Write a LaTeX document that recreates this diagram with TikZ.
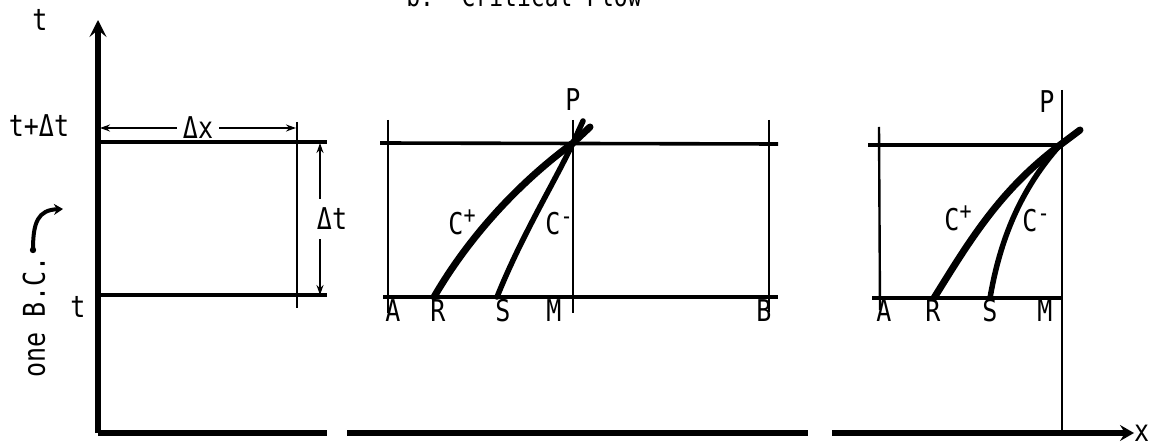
\documentclass[tikz,border=0pt]{standalone}
\usepackage{fontspec}
\setmainfont{DejaVu Sans Mono}
\usetikzlibrary{arrows.meta}
\newcommand{\tx}[1]{\scalebox{1}[1.2]{#1}}
\newcommand{\supx}[1]{\raisebox{9pt}{\fontsize{20}{20}\selectfont #1}}
\begin{document}
\begin{tikzpicture}[x=1pt,y=-1pt,
  lbl/.style={font=\fontsize{25}{25}\selectfont, inner sep=0pt},
  axis/.style={line width=6pt},
  grid/.style={line width=3.6pt},
  thin/.style={line width=2.4pt},
  charc/.style={line width=7pt, line cap=round},
  dim/.style={line width=1.8pt, {Stealth[length=10pt,width=7pt]}-{Stealth[length=10pt,width=7pt]}}]
\useasboundingbox (0,0) rectangle (1150,443);
% title (clipped at top, as in the reference)
\node[lbl, font=\fontsize{23}{23}\selectfont, anchor=base] (title) at (524,7) {\tx{b.\ \ Critical Flow}};
% axes
\coordinate (O) at (98,433);
\coordinate (T) at (98,20);
\draw[axis, -{Stealth[length=17pt,width=17pt,inset=7pt]}] (O) -- (T);
\draw[axis] (O) -- (327,433);
\draw[axis] (347,433) -- (808,433);
\draw[axis, -{Stealth[length=14pt,width=16pt,inset=5pt]}] (832,433) -- (1134,433);
\node[lbl, anchor=west] (xlab) at (1134,433) {\tx{x}};
\node[lbl] (tlab) at (40,20) {\tx{t}};
\node[lbl] (ttop) at (39,126) {\tx{t+Δt}};
\node[lbl] (tbot) at (78,307) {\tx{t}};
\node[lbl, rotate=90] (bc) at (34,317) {\tx{one B.C.}};
\fill (33,250) circle (3.2pt);
\draw[line width=4pt, -{Stealth[length=9pt,width=11pt]}] (33,250) .. controls (33,222) and (38,210) .. (63,209);
% left panel
\draw[grid] (98,142) -- (327,142);
\draw[grid] (98,295) -- (327,295);
\draw[thin] (297,122) -- (297,308);
\coordinate (dxl) at (100,128);
\coordinate (dxr) at (296,128);
\draw[dim] (dxl) -- node[lbl, fill=white, inner xsep=6pt] (dx) {\tx{Δx}} (dxr);
\coordinate (dtt) at (320,143);
\coordinate (dtb) at (320,295);
\draw[dim] (dtt) -- node[lbl, fill=white, inner ysep=9pt, xshift=12pt] (dt) {\tx{Δt}} (dtb);
% middle panel
\draw[grid] (380,143) -- (778,144);
\draw[grid] (383,297) -- (778,297);
\draw[thin] (388,120) -- (388,313);
\draw[thin] (573,120) -- (573,313);
\draw[thin] (769,120) -- (769,312);
\coordinate (P1) at (573,143);
\coordinate (R1) at (434,297);
\coordinate (S1) at (497,297);
\coordinate (E1) at (590,127);
\draw[charc] (R1) .. controls (470,235) and (520,182) .. (P1) -- (E1);
\draw[charc, line width=5.5pt] (S1) .. controls (522,235) and (553,185) .. (P1) -- (583,121);
\node[lbl] (p1) at (573,100) {\tx{P}};
\node[lbl] (cp1) at (462,222) {\tx{C\supx{+}}};
\node[lbl] (cm1) at (559,224) {\tx{C\supx{-}}};
\node[lbl] (a1) at (393,311) {\tx{A}};
\node[lbl] (r1) at (438,311) {\tx{R}};
\node[lbl] (s1) at (503,311) {\tx{S}};
\node[lbl] (m1) at (554,311) {\tx{M}};
\node[lbl] (b1) at (764,311) {\tx{B}};
% right panel
\draw[grid] (868,145) -- (1060,145);
\draw[grid] (872,298) -- (1062,298);
\draw[thin] (879,127) -- (880,310);
\draw[thin] (1062,90) -- (1062,433);
\coordinate (P2) at (1060,145);
\coordinate (R2) at (934,298);
\coordinate (S2) at (990,298);
\coordinate (E2) at (1080,130);
\draw[charc] (R2) .. controls (970,240) and (1000,190) .. (P2) -- (E2);
\draw[charc, line width=5.5pt] (S2) .. controls (1000,240) and (1020,190) .. (P2);
\node[lbl] (p2) at (1047,102) {\tx{P}};
\node[lbl] (cp2) at (958,218) {\tx{C\supx{+}}};
\node[lbl] (cm2) at (1036,221) {\tx{C\supx{-}}};
\node[lbl] (a2) at (884,311) {\tx{A}};
\node[lbl] (r2) at (933,311) {\tx{R}};
\node[lbl] (s2) at (990,311) {\tx{S}};
\node[lbl] (m2) at (1045,311) {\tx{M}};
\end{tikzpicture}
\end{document}
